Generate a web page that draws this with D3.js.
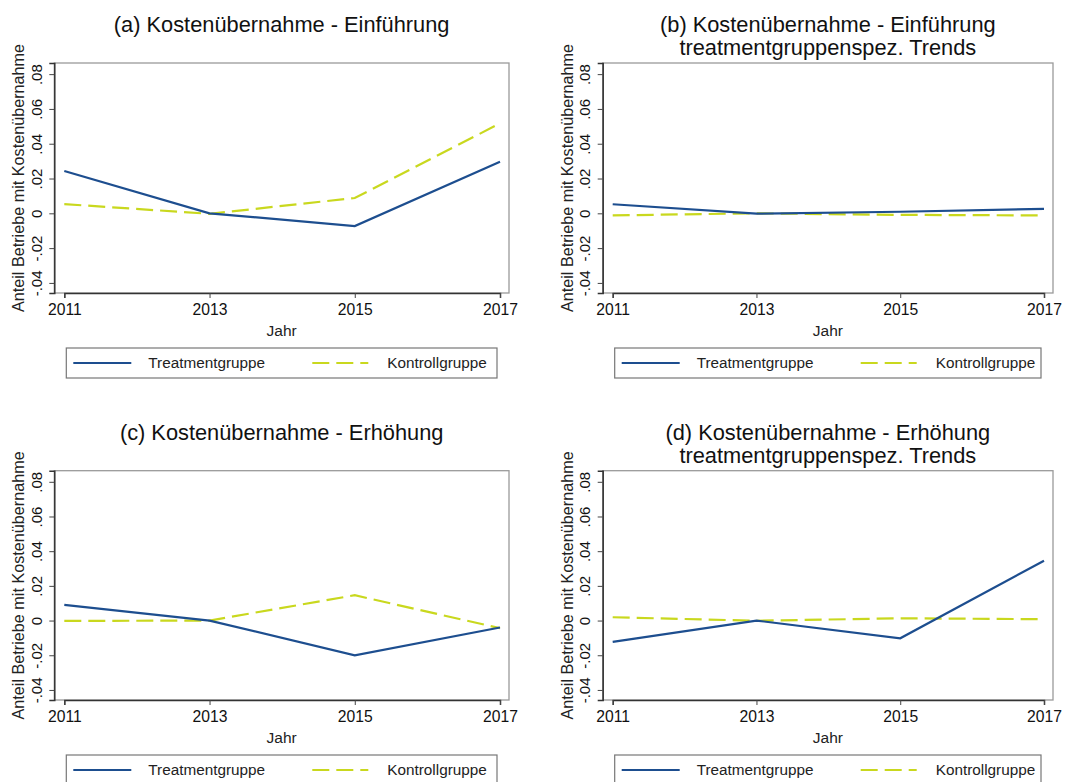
<!DOCTYPE html>
<html><head><meta charset="utf-8">
<script src="https://cdn.jsdelivr.net/npm/d3@7"></script>
<style>
body{margin:0;background:#fff;}
svg{display:block;font-family:"Liberation Sans",Arial,sans-serif;}
</style></head>
<body><svg id="c" width="1083" height="782"></svg>
<script>
const years = [2011, 2013, 2015, 2017];
const yTicks = [-0.04, -0.02, 0, 0.02, 0.04, 0.06, 0.08];
const yTickLabels = ["-.04", "-.02", "0", ".02", ".04", ".06", ".08"];
const seriesNames = ["Treatmentgruppe", "Kontrollgruppe"];
const titles = [
  ["(a) Kostenübernahme - Einführung"],
  ["(b) Kostenübernahme - Einführung", "treatmentgruppenspez. Trends"],
  ["(c) Kostenübernahme - Erhöhung"],
  ["(d) Kostenübernahme - Erhöhung", "treatmentgruppenspez. Trends"]
];
const treatA = [0.0243, 0.0, -0.0073, 0.0297];
const kontrA = [0.0053, -0.0003, 0.0088, 0.0517];
const treatB = [0.0052, -0.0002, 0.0009, 0.0026];
const kontrB = [-0.0012, 0.0, -0.0009, -0.0012];
const treatC = [0.009, 0.0, -0.0201, -0.004];
const kontrC = [-0.0002, 0.0, 0.0146, -0.0044];
const treatD = [-0.0123, 0.0, -0.0102, 0.0345];
const kontrD = [0.0019, -0.0001, 0.0013, 0.0008];
const yTitle = "Anteil Betriebe mit Kostenübernahme";
const xTitle = "Jahr";

const treatSets = [treatA, treatB, treatC, treatD];
const kontrSets = [kontrA, kontrB, kontrC, kontrD];
const colors = ["#1d4e8f", "#c9d81e"];
const svg = d3.select("#c");

const panels = [
  {l:54.3, r:509, t:63, b:293},
  {l:602.7, r:1053, t:63, b:293},
  {l:54.3, r:509, t:470.7, b:700},
  {l:602.7, r:1053, t:470.7, b:700}
];

panels.forEach((p, i) => {
  const g = svg.append("g");
  const x = d3.scaleLinear().domain([2011, 2017]).range([p.l + 10, p.r - 9]);
  const y = d3.scaleLinear().domain([-0.0458, 0.0864]).range([p.b, p.t]);

  // frame
  g.append("rect").attr("x", p.l).attr("y", p.t).attr("width", p.r - p.l).attr("height", p.b - p.t)
    .attr("fill", "#fff").attr("stroke", "#9a9a9a").attr("stroke-width", 1.3);

  // y axis
  const ya = g.append("g").attr("transform", `translate(${p.l},0)`)
    .call(d3.axisLeft(y).tickValues(yTicks).tickSize(5).tickPadding(3)
      .tickFormat((d, j) => yTickLabels[j]));
  ya.select(".domain").attr("stroke", "#333").attr("stroke-width", 1.5);
  ya.selectAll(".tick line").attr("stroke", "#444");
  ya.selectAll(".tick text").attr("transform", "rotate(-90)").attr("text-anchor", "middle")
    .attr("x", 0).attr("y", -18).attr("dy", "0.35em").attr("font-size", 15).attr("fill", "#111")
    .style("font-family", "Liberation Sans, Arial, sans-serif");

  // x axis
  const xa = g.append("g").attr("transform", `translate(0,${p.b})`)
    .call(d3.axisBottom(x).tickValues(years).tickSize(5).tickPadding(6).tickFormat(d3.format("d")));
  xa.select(".domain").attr("stroke", "#333").attr("stroke-width", 1.5);
  xa.selectAll(".tick line").attr("stroke", "#444");
  xa.selectAll(".tick text").attr("font-size", 15.7).attr("fill", "#111")
    .style("font-family", "Liberation Sans, Arial, sans-serif");

  // axis titles
  g.append("text").attr("transform", `translate(${p.l - 30},${(p.t + p.b) / 2}) rotate(-90)`)
    .attr("text-anchor", "middle").attr("font-size", 16.2).attr("fill", "#222").text(yTitle);
  g.append("text").attr("x", (p.l + p.r) / 2).attr("y", p.b + 43)
    .attr("text-anchor", "middle").attr("font-size", 15.5).attr("fill", "#222").text(xTitle);

  // title
  const tl = titles[i];
  const base = p.t - 31;
  tl.forEach((s, k) => {
    g.append("text").attr("x", (p.l + p.r) / 2).attr("y", base + k * 23)
      .attr("text-anchor", "middle").attr("font-size", 21.8).attr("fill", "#111").text(s);
  });

  // lines
  const line = d3.line().x((d, j) => x(years[j])).y(d => y(d));
  g.append("path").datum(kontrSets[i]).attr("d", line).attr("fill", "none")
    .attr("stroke", colors[1]).attr("stroke-width", 2.2).attr("stroke-dasharray", "17,7");
  g.append("path").datum(treatSets[i]).attr("d", line).attr("fill", "none")
    .attr("stroke", colors[0]).attr("stroke-width", 2.2);

  // legend
  const lx = p.l + 12, lw = p.r - p.l - 24, ly = p.b + 55, lh = 30;
  g.append("rect").attr("x", lx).attr("y", ly).attr("width", lw).attr("height", lh)
    .attr("fill", "#fff").attr("stroke", "#777").attr("stroke-width", 1.2);
  const my = ly + lh / 2;
  g.append("line").attr("x1", lx + 7).attr("x2", lx + 65).attr("y1", my).attr("y2", my)
    .attr("stroke", colors[0]).attr("stroke-width", 2.2);
  g.append("text").attr("x", lx + 82).attr("y", my).attr("dy", "0.35em").attr("font-size", 15.3)
    .attr("fill", "#222").text(seriesNames[0]);
  g.append("line").attr("x1", lx + 246).attr("x2", lx + 302).attr("y1", my).attr("y2", my)
    .attr("stroke", colors[1]).attr("stroke-width", 2.2).attr("stroke-dasharray", "17,7");
  g.append("text").attr("x", lx + 321).attr("y", my).attr("dy", "0.35em").attr("font-size", 15.3)
    .attr("fill", "#222").text(seriesNames[1]);
});
</script></body></html>
